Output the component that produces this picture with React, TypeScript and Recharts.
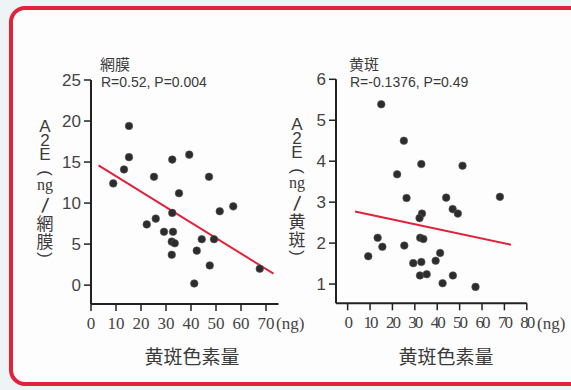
import React from "react";
import { ScatterChart, Scatter, XAxis, YAxis, ReferenceLine } from "recharts";

// 網膜: A2E (ng/網膜) vs 黄斑色素量 (ng)
const retinaX = [8.9, 13.2, 15.2, 15.2, 25.2, 22.3, 25.9, 29.2, 32.5, 32.5, 32.8, 32.3, 33.5, 32.3, 35.2, 39.3, 41.3, 42.3, 44.3, 47.2, 47.5, 49.2, 51.5, 56.9, 67.5];
const retinaY = [12.4, 14.1, 19.4, 15.6, 13.2, 7.4, 8.1, 6.5, 15.3, 8.8, 6.5, 5.3, 5.1, 3.7, 11.2, 15.9, 0.2, 4.2, 5.6, 13.2, 2.4, 5.6, 9.0, 9.6, 2.0];
const retinaFitX = [3, 73];
const retinaFitY = [14.6, 1.4];
const retinaYTicks = [0, 5, 10, 15, 20, 25];
const retinaXTicks = [0, 10, 20, 30, 40, 50, 60, 70];

// 黄斑: A2E (ng/黄斑) vs 黄斑色素量 (ng)
const maculaX = [15.0, 25.1, 32.9, 22.1, 51.3, 26.3, 44.0, 68.0, 46.9, 49.2, 33.2, 32.1, 13.4, 15.5, 9.2, 25.3, 32.4, 33.8, 29.3, 32.9, 39.3, 41.3, 32.3, 35.3, 47.0, 42.4, 57.1];
const maculaY = [5.39, 4.5, 3.93, 3.68, 3.89, 3.1, 3.11, 3.13, 2.83, 2.72, 2.72, 2.61, 2.13, 1.91, 1.68, 1.94, 2.13, 2.1, 1.51, 1.54, 1.57, 1.76, 1.21, 1.24, 1.21, 1.02, 0.93];
const maculaFitX = [3.3, 72.9];
const maculaFitY = [2.77, 1.96];
const maculaYTicks = [1, 2, 3, 4, 5, 6];
const maculaXTicks = [0, 10, 20, 30, 40, 50, 60, 70, 80];

const TEXT = "#3a3a3a";
const AXIS = "#222";
const RED = "#e3213a";
const AXW = 40; // axis band size (width of y axis / height of x axis)

const Dot = (props: any) => (
  <circle cx={props.cx} cy={props.cy} r={3.8} fill="#2c2c2c" stroke="#555" strokeWidth={0.6} />
);

const toPoints = (xs: number[], ys: number[]) => xs.map((x, i) => ({ x, y: ys[i] }));

// vertical stacked axis label, e.g. A2E（ng／網膜）
const VLabel = ({ cx, top, word }: { cx: number; top: number; word: string }) => {
  const sans = { fontFamily: "Liberation Sans", fontSize: 17 };
  const cjk = { fontFamily: "Noto Sans CJK JP", fontSize: 17 };
  const items: [string, number, any, string][] = [
    ["A", 0, sans, ""],
    ["2", 14, sans, ""],
    ["E", 28, sans, ""],
    ["(", 46, sans, " rotate(90deg)"],
    ["ng", 58, { fontFamily: "Liberation Serif", fontSize: 16 }, ""],
    ["/", 79, { fontFamily: "Liberation Sans", fontSize: 21 }, " rotate(8deg)"],
    [word[0], 96, cjk, ""],
    [word[1], 114, cjk, ""],
    [")", 128, sans, " rotate(90deg)"],
  ];
  return (
    <>
      {items.map(([t, dy, st, rot], i) => (
        <span
          key={i}
          style={{
            position: "absolute",
            left: cx,
            top: top + dy,
            transform: "translate(-50%, -50%)" + rot,
            lineHeight: 0.8,
            color: TEXT,
            whiteSpace: "nowrap",
            ...st,
          }}
        >
          {t}
        </span>
      ))}
    </>
  );
};

const abs = (left: number, top: number, extra: any = {}) => ({
  position: "absolute" as const,
  left,
  top,
  color: TEXT,
  lineHeight: 1,
  whiteSpace: "nowrap" as const,
  ...extra,
});

export default function App() {
  const retina = toPoints(retinaX, retinaY);
  const macula = toPoints(maculaX, maculaY);

  const yTick = { fontSize: 17, fill: "#444", fontFamily: "Liberation Sans" };

  return (
    <div style={{ position: "absolute", left: 0, top: 0, width: 571, height: 390, background: "#eef3f6", overflow: "hidden" }}>
      <div
        style={{
          position: "absolute",
          left: 9,
          top: 6,
          width: 600,
          height: 380,
          boxSizing: "border-box",
          border: `4px solid ${RED}`,
          borderRadius: 16,
          background: "#fdfdfd",
        }}
      />

      <div style={{ position: "absolute", left: 0, top: 0 }}>
        <ScatterChart width={571} height={390} margin={{ top: 80, left: 91 - AXW, right: 292.5, bottom: 86 - AXW }}>
          <XAxis
            type="number"
            dataKey="x"
            domain={[0, 75]}
            allowDataOverflow
            ticks={retinaXTicks}
            height={AXW}
            axisLine={{ stroke: AXIS, strokeWidth: 2 }}
            tickLine={{ stroke: AXIS, strokeWidth: 1.5 }}
            tickSize={7}
            tickMargin={6}
            interval={0}
            tick={{ fontSize: 17, fill: "#444", fontFamily: "Liberation Sans Narrow" }}
          />
          <YAxis
            type="number"
            dataKey="y"
            domain={[-2.3, 25]}
            allowDataOverflow
            ticks={retinaYTicks}
            width={AXW}
            axisLine={{ stroke: AXIS, strokeWidth: 2 }}
            tickLine={{ stroke: AXIS, strokeWidth: 1.5 }}
            tickSize={7}
            tickMargin={3}
            interval={0}
            tick={yTick}
          />
          <ReferenceLine
            segment={[
              { x: retinaFitX[0], y: retinaFitY[0] },
              { x: retinaFitX[1], y: retinaFitY[1] },
            ]}
            stroke={RED}
            strokeWidth={2}
          />
          <Scatter data={retina} shape={<Dot />} isAnimationActive={false} />
        </ScatterChart>
      </div>

      <div style={{ position: "absolute", left: 0, top: 0 }}>
        <ScatterChart width={571} height={390} margin={{ top: 79.3, left: 336 - AXW, right: 44.2, bottom: 86.7 - AXW }}>
          <XAxis
            type="number"
            dataKey="x"
            domain={[-5.2, 80]}
            allowDataOverflow
            ticks={maculaXTicks}
            height={AXW}
            axisLine={{ stroke: AXIS, strokeWidth: 2 }}
            tickLine={{ stroke: AXIS, strokeWidth: 1.5 }}
            tickSize={7}
            tickMargin={6}
            interval={0}
            tick={{ fontSize: 17, fill: "#444", fontFamily: "Liberation Sans Narrow", letterSpacing: -2 }}
          />
          <YAxis
            type="number"
            dataKey="y"
            domain={[0.53, 6]}
            allowDataOverflow
            ticks={maculaYTicks}
            width={AXW}
            axisLine={{ stroke: AXIS, strokeWidth: 2 }}
            tickLine={{ stroke: AXIS, strokeWidth: 1.5 }}
            tickSize={7}
            tickMargin={3}
            interval={0}
            tick={yTick}
          />
          <ReferenceLine
            segment={[
              { x: maculaFitX[0], y: maculaFitY[0] },
              { x: maculaFitX[1], y: maculaFitY[1] },
            ]}
            stroke={RED}
            strokeWidth={2}
          />
          <Scatter data={macula} shape={<Dot />} isAnimationActive={false} />
        </ScatterChart>
      </div>

      {/* titles */}
      <div style={abs(100, 56, { fontFamily: "Noto Sans CJK JP", fontSize: 15 })}>網膜</div>
      <div style={abs(101, 75, { fontFamily: "Liberation Sans", fontSize: 14 })}>R=0.52, P=0.004</div>
      <div style={abs(349, 56, { fontFamily: "Noto Sans CJK JP", fontSize: 15 })}>黄斑</div>
      <div style={abs(350, 75, { fontFamily: "Liberation Sans", fontSize: 14 })}>R=-0.1376, P=0.49</div>

      {/* y axis labels */}
      <VLabel cx={45} top={127} word="網膜" />
      <VLabel cx={297} top={125} word="黄斑" />

      {/* unit labels */}
      <div style={abs(276, 315, { fontFamily: "Liberation Serif", fontSize: 17, color: "#444" })}>(ng)</div>
      <div style={abs(537, 315, { fontFamily: "Liberation Serif", fontSize: 17, color: "#444" })}>(ng)</div>

      {/* x axis titles */}
      <div style={abs(192, 355, { fontFamily: "Noto Sans CJK JP", fontSize: 19, transform: "translate(-50%, -50%)" })}>黄斑色素量</div>
      <div style={abs(446, 355, { fontFamily: "Noto Sans CJK JP", fontSize: 19, transform: "translate(-50%, -50%)" })}>黄斑色素量</div>
    </div>
  );
}
